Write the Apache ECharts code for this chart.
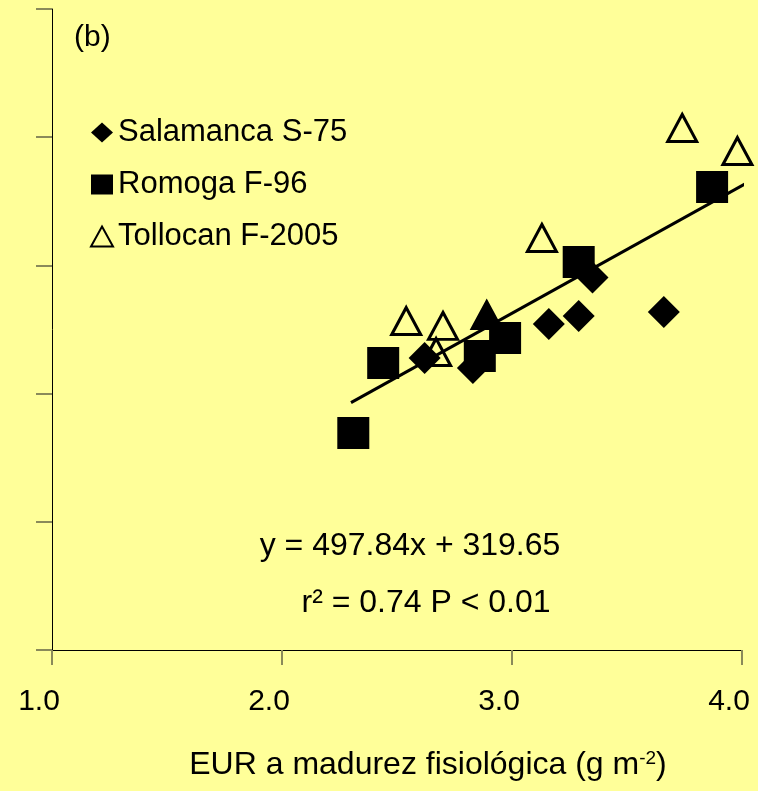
<!DOCTYPE html>
<html>
<head>
<meta charset="utf-8">
<title>EUR a madurez fisiológica</title>
<script src="https://cdn.jsdelivr.net/npm/echarts@6/dist/echarts.min.js"></script>
<style>
  html, body { margin: 0; padding: 0; background: #FFFF99; }
  #chart { width: 758px; height: 791px; }
</style>
</head>
<body>
<div id="chart"></div>
<script>
// Cultivar measurements: x = EUR at physiological maturity (g m-2), y = response value
const salamancaX = [2.62, 2.83, 3.16, 3.29, 3.35, 3.66];
const salamancaY = [1639, 1600, 1771, 1803, 1953, 1818];

const romogaX = [2.31, 2.44, 2.86, 2.97, 3.29, 3.87];
const romogaY = [1346, 1619, 1647, 1717, 2013, 2306];

const tollocanX = [2.54, 2.70, 2.67, 2.89, 3.13, 3.74, 3.98];
const tollocanY = [1783, 1764, 1662, 1806, 2107, 2536, 2446];

// Fitted regression y = 497.84x + 319.65
const slope = 497.84;
const intercept = 319.65;
const fitX = [2.3, 4.07];

const xTicks = [1, 2, 3, 4];

const FONT = '"Liberation Sans", Arial, sans-serif';

function pairs(xs, ys) { return xs.map((x, i) => [x, ys[i]]); }

const tollocanData = pairs(tollocanX, tollocanY).map((p, i) => {
  // the fourth Tollocan point is drawn solid
  if (i === 3) return { value: p, itemStyle: { color: '#000' } };
  return p;
});

const chart = echarts.init(document.getElementById('chart'), null, { renderer: 'canvas' });

chart.setOption({
  backgroundColor: '#FFFF99',
  animation: false,
  textStyle: { fontFamily: FONT, color: '#000' },
  grid: { left: 52, right: 16, top: 9, bottom: 141, containLabel: false, outerBoundsMode: 'none' },
  legend: {
    orient: 'vertical',
    left: 90,
    top: 117,
    padding: 0,
    itemWidth: 22,
    itemHeight: 20,
    itemGap: 21,
    data: ['Salamanca S-75', 'Romoga F-96', 'Tollocan F-2005'],
    textStyle: { fontSize: 31, lineHeight: 31, color: '#000', fontFamily: FONT }
  },
  xAxis: {
    type: 'value',
    min: xTicks[0],
    max: xTicks[xTicks.length - 1],
    interval: 1,
    axisLine: { show: true, onZero: false, lineStyle: { color: '#000', width: 1 } },
    axisTick: { show: true, inside: false, length: 15, lineStyle: { color: '#8a8a5a', width: 2 } },
    splitLine: { show: false },
    axisLabel: {
      fontSize: 30, lineHeight: 30, color: '#000', fontFamily: FONT, margin: 37,
      padding: [0, 26, 0, 0],
      formatter: v => v.toFixed(1)
    },
    name: 'EUR a madurez fisiológica (g m{sup|-2})',
    nameLocation: 'middle',
    nameGap: 99,
    nameTextStyle: {
      fontSize: 32, lineHeight: 32, color: '#000', fontFamily: FONT,
      padding: [0, 0, 0, 62],
      rich: {
        sup: { fontSize: 19, lineHeight: 32, verticalAlign: 'top', color: '#000', fontFamily: FONT, padding: [0, 0, 12, 0] }
      }
    }
  },
  yAxis: {
    type: 'value',
    min: 500,
    max: 3000,
    interval: 500,
    axisLine: { show: true, onZero: false, lineStyle: { color: '#000', width: 1 } },
    axisTick: { show: true, inside: false, length: 16, lineStyle: { color: '#8a8a5a', width: 2 } },
    splitLine: { show: false },
    axisLabel: { show: false }
  },
  graphic: [
    { type: 'text', left: 74, top: 23, style: { text: '(b)', font: '30px ' + FONT, fill: '#000' } },
    { type: 'text', x: 410, y: 546, style: { text: 'y = 497.84x + 319.65', font: '32px ' + FONT, fill: '#000', align: 'center', verticalAlign: 'middle' } },
    { type: 'text', x: 426, y: 603, style: { text: 'r² = 0.74 P < 0.01', font: '32px ' + FONT, fill: '#000', align: 'center', verticalAlign: 'middle' } }
  ],
  series: [
    {
      name: 'Salamanca S-75',
      type: 'scatter',
      symbol: 'diamond',
      symbolSize: 32,
      clip: false,
      itemStyle: { color: '#000', opacity: 1 },
      data: pairs(salamancaX, salamancaY),
      z: 3
    },
    {
      name: 'Romoga F-96',
      type: 'scatter',
      symbol: 'rect',
      symbolSize: 32,
      clip: false,
      itemStyle: { color: '#000', opacity: 1 },
      data: pairs(romogaX, romogaY),
      z: 3
    },
    {
      name: 'Tollocan F-2005',
      type: 'scatter',
      symbol: 'triangle',
      symbolSize: [29, 27],
      clip: false,
      itemStyle: { color: 'rgba(0,0,0,0)', borderColor: '#000', borderWidth: 3, opacity: 1 },
      data: tollocanData,
      z: 4
    },
    {
      name: 'fit',
      type: 'line',
      symbol: 'none',
      clip: false,
      silent: true,
      lineStyle: { color: '#000', width: 3 },
      data: fitX.map(x => [x, slope * x + intercept]),
      z: 5
    }
  ]
});
</script>
</body>
</html>
